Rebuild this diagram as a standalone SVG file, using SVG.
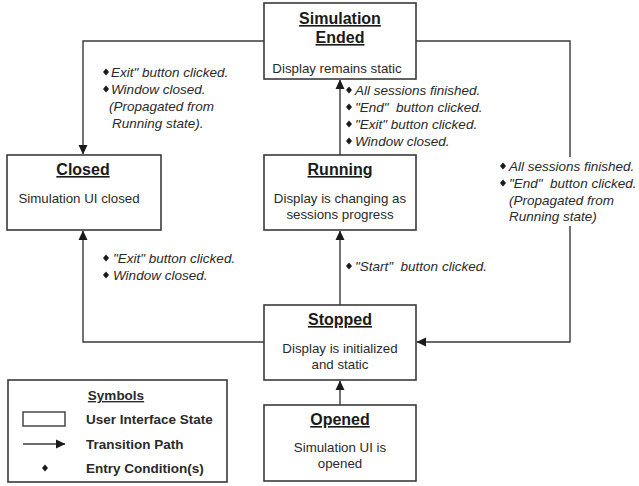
<svg xmlns="http://www.w3.org/2000/svg" width="639" height="486" viewBox="0 0 639 486">
<style>
.box{fill:#fff;stroke:#3a3a3a;stroke-width:1.6}
.ln{fill:none;stroke:#3a3a3a;stroke-width:1.4}
.t{font-family:"Liberation Sans",Arial,sans-serif;font-weight:bold;font-size:16px;fill:#1a1a1a;text-anchor:middle;text-decoration:underline}
.b{font-family:"Liberation Sans",Arial,sans-serif;font-size:13.3px;fill:#2a2a2a;text-anchor:middle}
.i{font-family:"Liberation Sans",Arial,sans-serif;font-style:italic;font-size:13.5px;fill:#2a2a2a;white-space:pre}
.lg{font-family:"Liberation Sans",Arial,sans-serif;font-weight:bold;font-size:13.5px;fill:#2a2a2a}
.dm{fill:#1a1a1a}
</style>
<defs>
<marker id="ah" markerWidth="10" markerHeight="10" refX="9" refY="5" orient="auto" markerUnits="userSpaceOnUse">
<path d="M0,0.5 L9.5,5 L0,9.5 Z" fill="#1a1a1a"/>
</marker>
<polygon id="d" points="0,-3.5 3,0 0,3.5 -3,0"/>
</defs>

<g id="connectors">
<path class="ln" d="M264,41 H83 V154" marker-end="url(#ah)"/>
<path class="ln" d="M340,155 V80" marker-end="url(#ah)"/>
<path class="ln" d="M340,305 V231" marker-end="url(#ah)"/>
<path class="ln" d="M340,405 V381" marker-end="url(#ah)"/>
<path class="ln" d="M264,342 H83 V231" marker-end="url(#ah)"/>
<path class="ln" d="M416,41 H570 V157 M570,226 V342 H417" marker-end="url(#ah)"/>
</g>

<g id="labels">
<use href="#d" class="dm" x="106" y="72"/>
<text class="i" x="111" y="77">Exit" button clicked.</text>
<use href="#d" class="dm" x="106" y="89"/>
<text class="i" x="111" y="94">Window closed.</text>
<text class="i" x="109" y="111">(Propagated from</text>
<text class="i" x="112" y="128">Running state).</text>

<use href="#d" class="dm" x="349" y="90"/>
<text class="i" x="355" y="95">All sessions finished.</text>
<use href="#d" class="dm" x="349" y="107"/>
<text class="i" x="355" y="112" xml:space="preserve">"End"  button clicked.</text>
<use href="#d" class="dm" x="349" y="124"/>
<text class="i" x="355" y="129">"Exit" button clicked.</text>
<use href="#d" class="dm" x="349" y="141"/>
<text class="i" x="355" y="146">Window closed.</text>

<use href="#d" class="dm" x="503" y="166"/>
<text class="i" x="509" y="171">All sessions finished.</text>
<use href="#d" class="dm" x="503" y="183"/>
<text class="i" x="509" y="188" xml:space="preserve">"End"  button clicked.</text>
<text class="i" x="509" y="205">(Propagated from</text>
<text class="i" x="509" y="221">Running state)</text>

<use href="#d" class="dm" x="106" y="258"/>
<text class="i" x="113" y="263">"Exit" button clicked.</text>
<use href="#d" class="dm" x="106" y="275"/>
<text class="i" x="113" y="280">Window closed.</text>

<use href="#d" class="dm" x="349" y="266"/>
<text class="i" x="355" y="271" xml:space="preserve">"Start"  button clicked.</text>
</g>

<g id="simulation-ended">
<rect class="box" x="264" y="3" width="152" height="76"/>
<text class="t" x="340" y="24">Simulation</text>
<text class="t" x="340" y="43">Ended</text>
<text class="b" x="337" y="73">Display remains static</text>
</g>

<g id="closed">
<rect class="box" x="7" y="155" width="154" height="75"/>
<text class="t" x="83" y="175">Closed</text>
<text class="b" x="79" y="203">Simulation UI closed</text>
</g>

<g id="running">
<rect class="box" x="264" y="155" width="152" height="75"/>
<text class="t" x="340" y="175">Running</text>
<text class="b" x="340" y="203">Display is changing as</text>
<text class="b" x="340" y="219">sessions progress</text>
</g>

<g id="stopped">
<rect class="box" x="264" y="305" width="152" height="75"/>
<text class="t" x="340" y="325">Stopped</text>
<text class="b" x="340" y="353">Display is initialized</text>
<text class="b" x="340" y="369">and static</text>
</g>

<g id="opened">
<rect class="box" x="264" y="405" width="152" height="76"/>
<text class="t" x="340" y="425">Opened</text>
<text class="b" x="340" y="452">Simulation UI is</text>
<text class="b" x="340" y="468">opened</text>
</g>

<g id="legend">
<rect class="box" x="8" y="380" width="219" height="102"/>
<text class="lg" x="116" y="400" text-anchor="middle" text-decoration="underline">Symbols</text>
<rect x="23" y="412" width="42" height="14" fill="#fff" stroke="#3a3a3a" stroke-width="1.4"/>
<text class="lg" x="86" y="424">User Interface State</text>
<path class="ln" d="M23,444 H65" marker-end="url(#ah)"/>
<text class="lg" x="86" y="449">Transition Path</text>
<use href="#d" class="dm" x="45" y="468"/>
<text class="lg" x="86" y="473">Entry Condition(s)</text>
</g>
</svg>
